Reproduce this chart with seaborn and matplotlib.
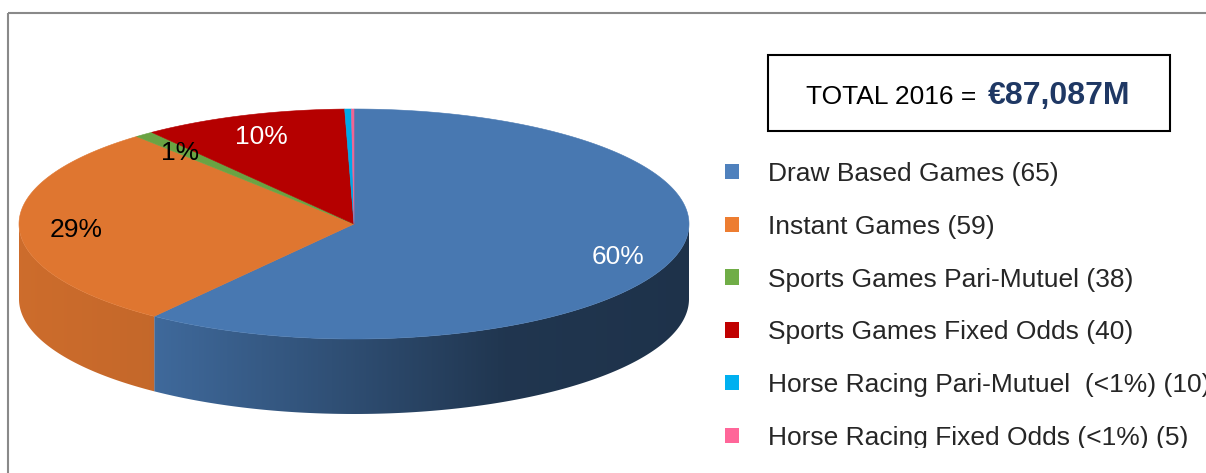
import numpy as np
import matplotlib
matplotlib.use("Agg")
import matplotlib.pyplot as plt
from matplotlib.patches import Polygon, Rectangle, Patch
from matplotlib.transforms import Bbox, TransformedBbox
import seaborn as sns

# gross gaming revenue by product, EUR million
categories = ["Draw Based Games", "Instant Games", "Sports Games Pari-Mutuel",
              "Sports Games Fixed Odds", "Horse Racing Pari-Mutuel  (<1%)",
              "Horse Racing Fixed Odds (<1%)"]
counts = [65, 59, 38, 40, 10, 5]
revenue = [52400, 24900, 800, 8600, 280, 107]
total_label = "€87,087M"
year = 2016

top_colors = ["#4878b1", "#df7630", "#6aa343", "#b50000", "#00a8e6", "#f06493"]
legend_colors = ["#4f81bd", "#ed7d31", "#70ad47", "#c00000", "#00b0f0", "#ff6699"]
label_colors = ["white", "black", "black", "white", "white", "white"]

sns.set_theme(style="white")
plt.rcParams['font.family'] = ['Liberation Sans', 'DejaVu Sans']

fig = plt.figure(figsize=(12.06, 4.73), dpi=100)
ax = fig.add_axes([0, 0, 1, 1])
ax.set_xlim(0, 1206)
ax.set_ylim(473, 0)
ax.axis('off')

# outer chart border (cut off on the right and bottom)
ax.add_patch(Rectangle((8, 13), 1400, 700, fill=False, edgecolor="#898989", lw=1.5))

# 3D pie geometry
cx, cy, a, b, depth = 354, 224, 335, 115, 75
vals = np.array(revenue, dtype=float)
fracs = vals / vals.sum()
edges = np.concatenate([[0], np.cumsum(fracs)]) * 2 * np.pi  # clockwise from 12 o'clock


def pt(t, r=1.0):
    return cx + r * a * np.sin(t), cy - r * b * np.cos(t)


def shade(u):
    # darkening of the side wall, light from the left
    return np.interp(u, [-1, -0.6, 0, 0.45, 1], [0.92, 0.88, 0.64, 0.45, 0.42])


# side wall, only the front half is visible; horizontal gradient clipped to each piece
u = np.linspace(-1, 1, 600)
for i, col in enumerate(top_colors):
    t0 = max(edges[i], np.pi / 2)
    t1 = min(edges[i + 1], 3 * np.pi / 2)
    if t1 <= t0:
        continue
    ts = np.linspace(t0, t1, 200)
    xs, ys = pt(ts)
    outline = list(zip(xs, ys)) + list(zip(xs[::-1], ys[::-1] + depth))
    wall = Polygon(outline, closed=True, facecolor='none', edgecolor='none')
    ax.add_patch(wall)
    base = np.array(matplotlib.colors.to_rgb(col))
    grad = np.clip(base[None, :] * shade(u)[:, None], 0, 1)[None, :, :]
    im = ax.imshow(grad, extent=(cx - a, cx + a, cy + b + depth + 2, cy - b),
                   aspect='auto', interpolation='bilinear', zorder=1)
    im.set_clip_path(wall)

# top faces
for i, col in enumerate(top_colors):
    ts = np.linspace(edges[i], edges[i + 1], max(2, int((edges[i + 1] - edges[i]) / np.radians(0.5)) + 2))
    xs, ys = pt(ts)
    poly = [(cx, cy)] + list(zip(xs, ys))
    ax.add_patch(Polygon(poly, closed=True, facecolor=col, edgecolor=col, lw=0.4, zorder=2))

# percentage labels
for i, f in enumerate(fracs):
    if f * 100 < 0.5:
        continue
    tm = (edges[i] + edges[i + 1]) / 2
    x, y = pt(tm, 0.83)
    ax.text(x, y + 3, f"{f * 100:.0f}%", ha='center', va='center', fontsize=19,
            color=label_colors[i], zorder=3)

# total box
ax.add_patch(Rectangle((768, 55), 402, 76, fill=False, edgecolor="black", lw=1.5))
ax.text(806, 104, f"TOTAL {year} = ", ha='left', va='baseline', fontsize=19, color="black")
ax.text(988, 104, total_label, ha='left', va='baseline', fontsize=23,
        fontweight='bold', color="#1f3864")

# legend
handles = [Patch(facecolor=c, edgecolor='none') for c in legend_colors]
labels = [f"{c} ({n})" for c, n in zip(categories, counts)]
leg = ax.legend(handles, labels, loc='upper left', bbox_to_anchor=(725 / 1206, 1 - 162 / 473),
                frameon=False, fontsize=19, borderpad=0, borderaxespad=0,
                handlelength=0.53, handleheight=0.53, handletextpad=1.1, labelspacing=1.09)
clip = TransformedBbox(Bbox([[0, 25 / 473], [1, 1]]), fig.transFigure)
for t in leg.get_texts():
    t.set_clip_box(clip)
    t.set_clip_on(True)

ax.set_xlim(0, 1206)
ax.set_ylim(473, 0)
fig.savefig("out.png", dpi=100)
